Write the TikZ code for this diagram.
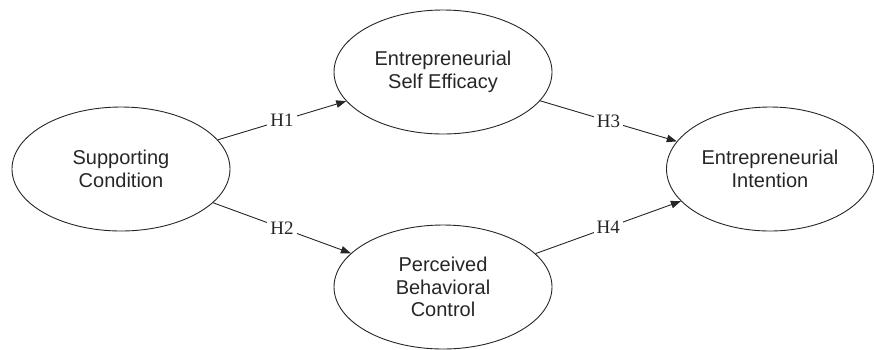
\documentclass[tikz,border=0pt]{standalone}
\usepackage{fontspec}
\setmainfont{Liberation Sans}
\newfontfamily\labelfont{Liberation Serif}
\usetikzlibrary{shapes.geometric,arrows.meta}
\begin{document}
\begin{tikzpicture}[x=1pt,y=1pt,
  construct/.style={draw=black!85, line width=0.9pt, ellipse, inner sep=0pt,
    minimum width=218pt, minimum height=124pt, align=center,
    font=\fontsize{20}{22.7}\selectfont, text=black!85},
  path/.style={draw=black!85, line width=0.9pt, -{Triangle[length=10pt,width=7.5pt]}},
  hyp/.style={fill=white, inner sep=3pt, font=\labelfont\fontsize{19}{20}\selectfont, text=black!85}]
\useasboundingbox (0,0) rectangle (874,-349);
\node[construct] (sc) at (121,-169) {Supporting\\Condition};
\node[construct] (ese) at (443,-72) {Entrepreneurial\\Self Efficacy};
\node[construct, minimum width=207pt] (ei) at (770,-169) {Entrepreneurial\\Intention};
\node[construct] (pbc) at (443,-287) {Perceived\\Behavioral\\Control};
\draw[path] (sc) -- node[hyp] (h1) {H1} (ese);
\draw[path] (sc) -- node[hyp] (h2) {H2} (pbc);
\draw[path] (ese) -- node[hyp] (h3) {H3} (ei);
\draw[path] (pbc) -- node[hyp] (h4) {H4} (ei);
\end{tikzpicture}
\end{document}
